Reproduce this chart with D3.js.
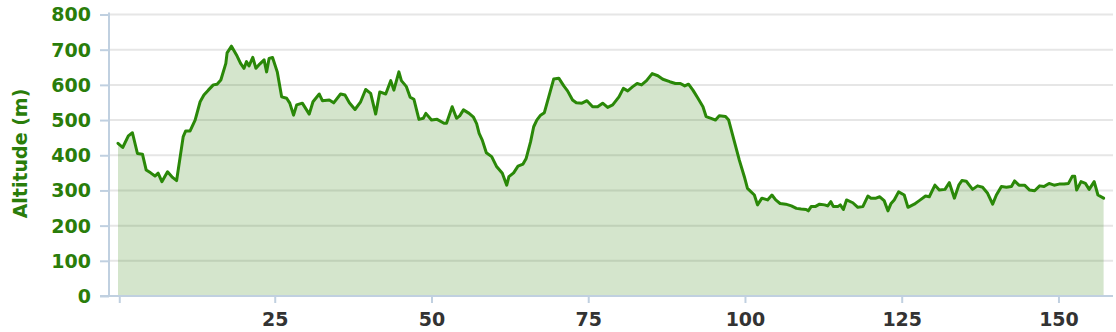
<!DOCTYPE html>
<html>
<head>
    <title>Altitude profile</title>
    <script src="https://d3js.org/d3.v7.min.js"></script>
    <style>
        body { margin: 0; background: #fff; }
        #profile { display: block; }
    </style>
</head>
<body>
    <svg id="profile"></svg>
    <script>
        // distance (km) and altitude (m)
        const distance = [0, 0.75, 1.65, 2.3, 3.1, 3.9, 4.5, 5.2, 5.9, 6.4, 7.0, 7.9, 8.7, 9.35, 10.4, 10.8, 11.5, 12.3, 13.1, 13.7,
            14.4, 15.2, 15.8, 16.4, 17.2, 17.4, 18.1, 18.9, 19.55, 20.1, 20.5, 20.9, 21.5, 22.0, 22.6, 23.3, 23.7, 24.1, 24.65, 25.4,
            26.1, 26.9, 27.4, 28.0, 28.5, 29.4, 30.5, 31.1, 32.1, 32.6, 33.7, 34.4, 35.5, 36.2, 36.9, 37.8, 38.7, 39.5, 40.3, 41.1,
            41.75, 42.7, 43.5, 44.0, 44.8, 45.2, 46.0, 46.6, 47.2, 48.0, 48.7, 49.1, 50.0, 50.9, 52.0, 52.4, 53.3, 54.0, 54.5, 55.1,
            56.0, 56.7, 57.2, 57.6, 58.1, 58.75, 59.6, 60.35, 61.3, 62.0, 62.35, 63.1, 63.8, 64.6, 65.1, 65.8, 66.3, 66.8, 67.4, 68.0,
            68.7, 69.5, 70.3, 71.1, 71.7, 72.5, 73.1, 74.0, 74.8, 75.7, 76.5, 77.3, 78.1, 78.9, 79.9, 80.6, 81.3, 82.1, 82.8, 83.5,
            84.3, 85.2, 86.1, 86.9, 88.0, 88.9, 89.7, 90.4, 91.0, 91.7, 92.5, 93.3, 93.8, 94.6, 95.3, 95.9, 96.9, 97.4, 98.1, 99.1,
            99.9, 100.4, 101.5, 102.0, 102.7, 103.6, 104.3, 104.9, 105.6, 106.5, 107.4, 108.2, 108.95, 109.75, 110.1, 110.55, 111.2, 111.9, 112.7, 113.2,
            113.7, 114.1, 114.8, 115.2, 115.7, 116.2, 117.2, 118.0, 118.8, 119.6, 120.1, 120.9, 121.5, 122.2, 122.8, 123.3, 123.8, 124.5, 125.4, 126.0,
            127.0, 127.8, 128.8, 129.4, 130.3, 131.0, 131.9, 132.6, 133.4, 134.1, 134.6, 135.3, 136.3, 137.1, 137.9, 138.7, 139.5, 140.1, 140.9, 141.7,
            142.5, 143.0, 143.7, 144.6, 145.4, 146.2, 147.0, 147.7, 148.5, 149.3, 150.1, 150.9, 151.6, 152.2, 152.6, 152.9, 153.6, 154.3, 154.9, 155.7,
            156.3, 157.2];
        const altitude = [434, 422, 455, 464, 405, 403, 358, 350, 341, 349, 325, 353, 337, 328, 453, 469, 469, 500, 552, 571,
            585, 600, 602, 614, 661, 691, 710, 685, 661, 647, 666, 654, 678, 647, 659, 671, 637, 675, 678, 637,
            566, 562, 548, 514, 543, 548, 517, 552, 574, 555, 557, 549, 574, 571, 549, 530, 552, 587, 576, 517,
            580, 574, 612, 585, 637, 612, 595, 565, 559, 502, 505, 519, 500, 502, 491, 491, 538, 505, 512, 529,
            519, 508, 490, 462, 443, 407, 396, 369, 349, 315, 339, 350, 369, 375, 391, 438, 481, 500, 514, 521,
            566, 617, 619, 597, 583, 557, 549, 548, 555, 538, 538, 548, 536, 543, 566, 590, 583, 595, 604, 600,
            612, 632, 626, 616, 609, 604, 604, 597, 602, 585, 562, 538, 510, 505, 500, 512, 510, 500, 453, 386,
            339, 306, 287, 259, 278, 273, 287, 273, 263, 261, 256, 249, 247, 246, 242, 254, 254, 261, 259, 256,
            268, 254, 254, 259, 246, 273, 265, 252, 254, 284, 278, 278, 282, 271, 242, 263, 273, 296, 287, 252,
            261, 271, 284, 282, 315, 301, 303, 322, 278, 315, 328, 326, 303, 313, 309, 292, 261, 287, 311, 309,
            311, 327, 315, 315, 301, 299, 313, 311, 320, 315, 318, 318, 320, 340, 340, 301, 325, 320, 303, 325,
            287, 278];

        const yTicks = [0, 100, 200, 300, 400, 500, 600, 700, 800];
        const xTicks = [0.2, 25, 50, 75, 100, 125, 150];
        const xTickLabels = ["", "25", "50", "75", "100", "125", "150"];
        const yTitle = "Altitude (m)";

        const width = 1116;
        const height = 332;
        const plotLeft = 109;
        const plotRight = 1113;
        const plotTop = 14.5;
        const plotBottom = 296;

        const green = '#2a7d0a';
        const axisColor = '#c0d0e0';
        const font = 'DejaVu Sans, Verdana, sans-serif';

        const x = d3.scaleLinear().domain([0, 158.7]).range([118, plotRight]);
        const y = d3.scaleLinear().domain([0, 800]).range([plotBottom, plotTop]);

        const points = distance.map((d, i) => ({ d: d, a: altitude[i] }));

        const svg = d3.select('#profile')
            .attr('width', width)
            .attr('height', height);

        // grid lines
        svg.append('g').selectAll('line')
            .data(yTicks.filter(t => t > 0))
            .join('line')
            .attr('x1', plotLeft)
            .attr('x2', plotRight)
            .attr('y1', d => y(d))
            .attr('y2', d => y(d))
            .attr('stroke', '#e6e6e6')
            .attr('stroke-width', 2);

        // area + line
        const area = d3.area()
            .x(p => x(p.d))
            .y0(y(0))
            .y1(p => y(p.a));

        const line = d3.line()
            .x(p => x(p.d))
            .y(p => y(p.a));

        svg.append('path')
            .datum(points)
            .attr('d', area)
            .attr('fill', 'rgba(40,125,0,0.2)');

        svg.append('path')
            .datum(points)
            .attr('d', line)
            .attr('fill', 'none')
            .attr('stroke', '#2a8808')
            .attr('stroke-width', 3)
            .attr('stroke-linejoin', 'round')
            .attr('stroke-linecap', 'round');

        // y axis
        const yAxis = svg.append('g')
            .attr('transform', `translate(${plotLeft},0)`)
            .call(d3.axisLeft(y).tickValues(yTicks).tickSize(9).tickPadding(9).tickSizeOuter(0));
        yAxis.select('.domain')
            .attr('stroke', axisColor)
            .attr('stroke-width', 2)
            .attr('d', `M0,${plotTop - 2}V${plotBottom}`);
        yAxis.selectAll('.tick line')
            .attr('stroke', axisColor)
            .attr('stroke-width', 2);
        yAxis.selectAll('.tick text')
            .attr('fill', green)
            .attr('font-size', '19px')
            .attr('font-weight', 'bold')
            .attr('font-family', font)
            .attr('dy', '0.34em');

        // x axis
        const xAxis = svg.append('g')
            .attr('transform', `translate(0,${plotBottom})`)
            .call(d3.axisBottom(x).tickValues(xTicks).tickFormat((d, i) => xTickLabels[i])
                .tickSize(7).tickPadding(10).tickSizeOuter(0));
        xAxis.select('.domain')
            .attr('stroke', axisColor)
            .attr('stroke-width', 2)
            .attr('d', `M${plotLeft - 9},0H${plotRight}`);
        xAxis.selectAll('.tick line')
            .attr('stroke', axisColor)
            .attr('stroke-width', 2);
        xAxis.selectAll('.tick text')
            .attr('fill', '#333')
            .attr('font-size', '19px')
            .attr('font-weight', 'bold')
            .attr('font-family', font);

        // axis title
        svg.append('text')
            .attr('transform', 'translate(27,153.5) rotate(-90)')
            .attr('text-anchor', 'middle')
            .attr('fill', green)
            .attr('font-size', '19px')
            .attr('font-weight', 'bold')
            .attr('font-family', font)
            .text(yTitle);
    </script>
</body>
</html>
